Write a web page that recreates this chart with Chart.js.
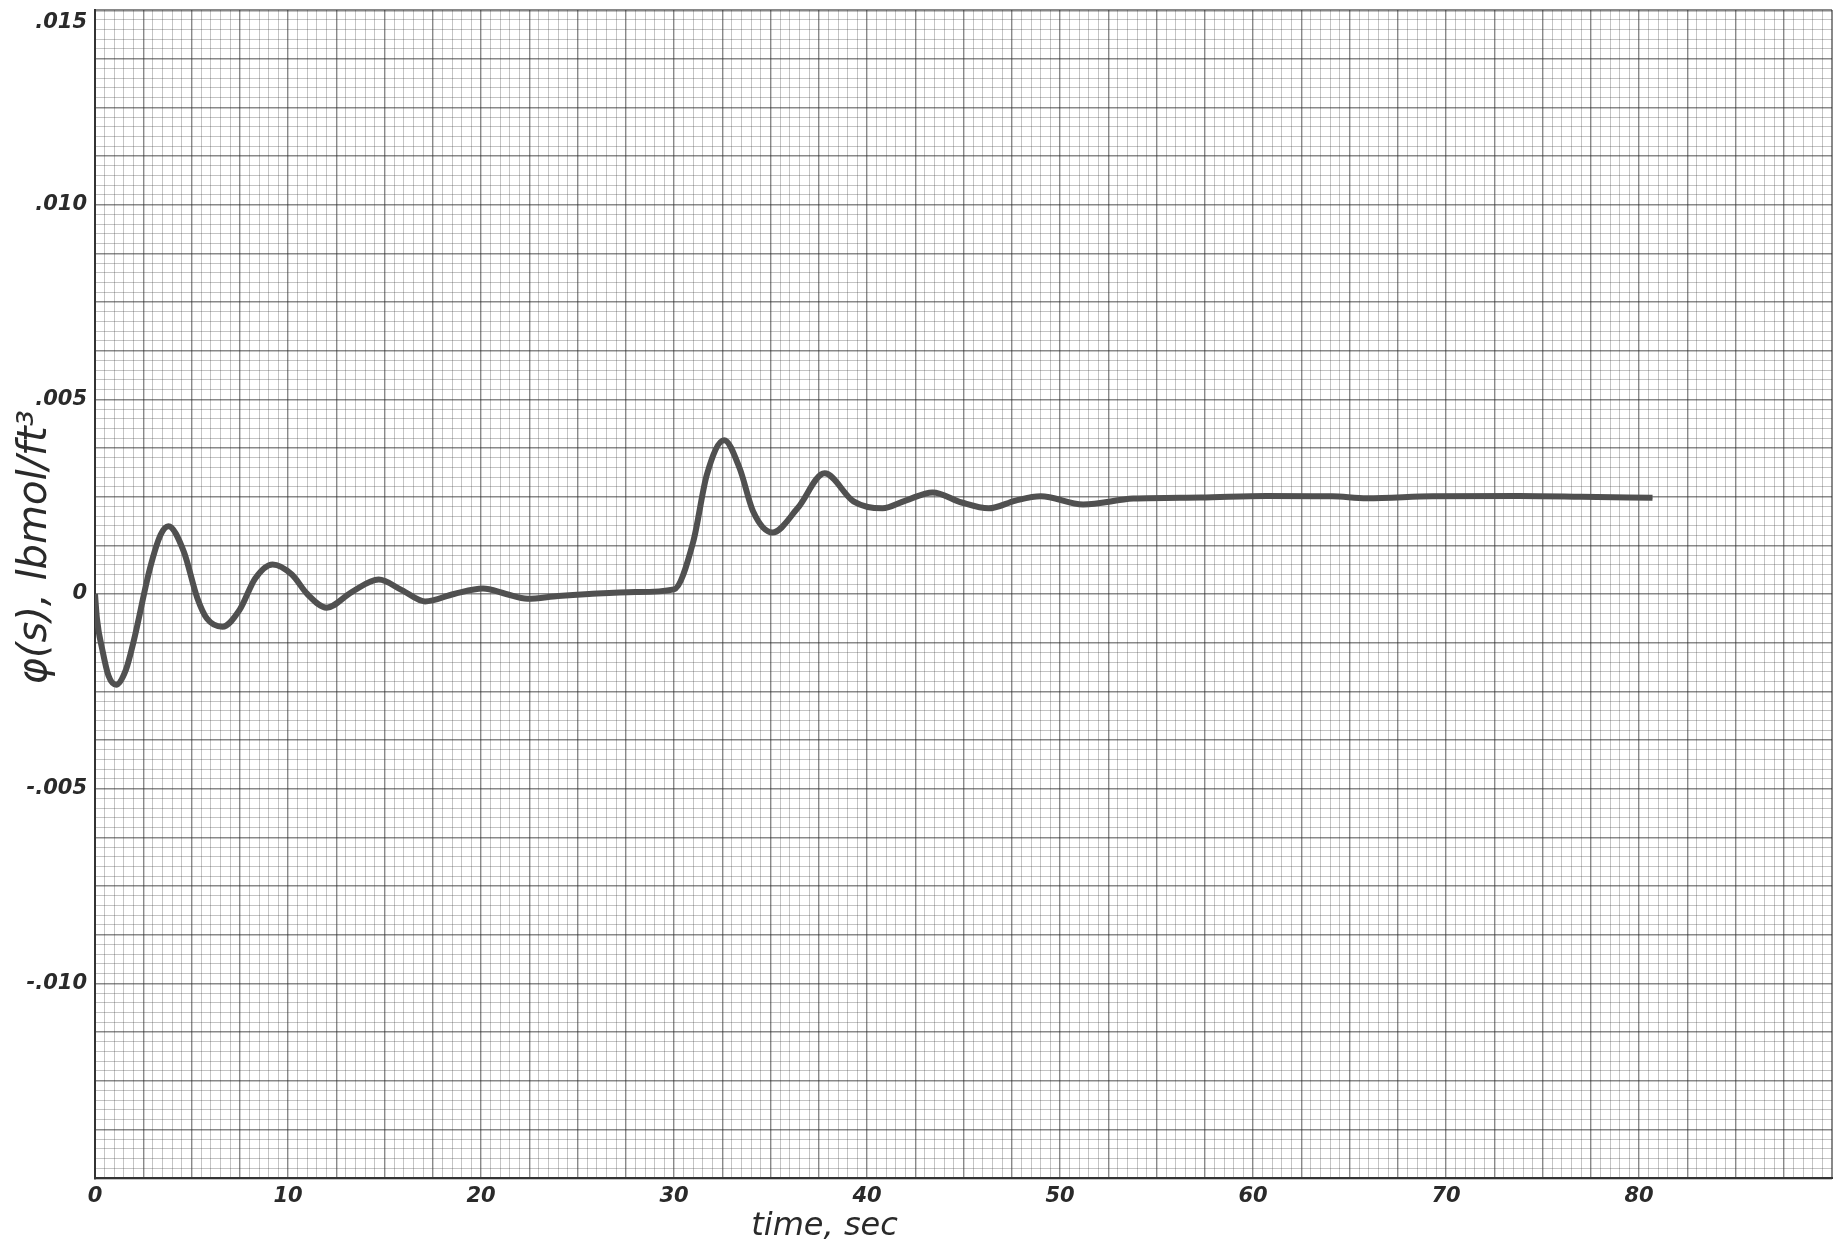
<!DOCTYPE html>
<html>
<head>
<meta charset="utf-8">
<script src="https://cdn.jsdelivr.net/npm/chart.js@4/dist/chart.umd.min.js"></script>
<style>
  html, body { margin: 0; padding: 0; background: #ffffff; }
  #wrap { width: 1841px; height: 1249px; position: relative; }
</style>
</head>
<body>
<div id="wrap"><canvas id="c" width="1841" height="1249"></canvas></div>
<script>
// time, sec
const timeSec = [
  0, 0.1, 0.4, 0.7, 1.1, 1.6, 2.0, 2.85, 3.4, 3.8, 4.6, 5.3, 5.8, 6.6,
  7.5, 8.3, 9.2, 10.2, 11.0, 12.0, 13.3, 14.7, 15.9, 17.1, 18.6, 20.1,
  21.3, 22.4, 24.0, 25.6, 28.0, 30.0, 31.0, 31.7, 32.6, 33.4, 34.1, 35.1,
  36.4, 37.8, 39.3, 40.8, 42.0, 43.4, 44.9, 46.3, 47.7, 49.0, 51.2, 53.8,
  57.3, 60.7, 64.1, 65.9, 69.3, 73.8, 77.0, 80.7
];
// response, lbmol/ft^3
const phiValues = [
  0.00000, -0.00063, -0.00148, -0.00210, -0.00233, -0.00195, -0.00122, 0.00066, 0.00152, 0.00174, 0.00109, -0.00010, -0.00063, -0.00084,
  -0.00040, 0.00040, 0.00076, 0.00050, 0.00000, -0.00035, 0.00005, 0.00037, 0.00010, -0.00019, 0.00000, 0.00014,
  0.00000, -0.00012, -0.00005, 0.00000, 0.00005, 0.00012, 0.00135, 0.00306, 0.00395, 0.00323, 0.00212, 0.00158,
  0.00220, 0.00310, 0.00238, 0.00220, 0.00240, 0.00261, 0.00235, 0.00220, 0.00240, 0.00251, 0.00230, 0.00245,
  0.00248, 0.00252, 0.00251, 0.00246, 0.00251, 0.00252, 0.00250, 0.00247
];
// labelled ticks
const xTickLabels = [0, 10, 20, 30, 40, 50, 60, 70, 80];
const yTickValues = [0.015, 0.010, 0.005, 0, -0.005, -0.010];
const yTickLabels = ['.015', '.010', '.005', '0', '-.005', '-.010'];

const xTitle = 'time, sec';
const yTitle = 'φ(s), lbmol/ft³';

const ink = '#2a2a2a';
const fineGrid = 'rgba(60,60,60,0.30)';
const heavyGrid = 'rgba(40,40,40,0.55)';
const labelFont = { family: 'DejaVu Sans', size: 21, style: 'italic', weight: 'bold' };

const points = timeSec.map((t, i) => ({ x: t, y: phiValues[i] }));

// hand-lettered axis titles, placed along the scales
const axisTitles = {
  id: 'axisTitles',
  afterDraw(chart) {
    const { ctx, scales } = chart;
    ctx.save();
    ctx.fillStyle = ink;
    ctx.font = 'italic 32px "DejaVu Sans"';
    ctx.textAlign = 'center';
    ctx.textBaseline = 'middle';
    ctx.fillText(xTitle, scales.x.getPixelForValue(37.8), chart.height - 22);
    ctx.translate(36, scales.y.getPixelForValue(0.0012));
    ctx.rotate(-Math.PI / 2);
    ctx.font = 'italic 40px "DejaVu Sans"';
    ctx.fillText(yTitle, 0, 0);
    ctx.restore();
  }
};

new Chart(document.getElementById('c'), {
  type: 'line',
  data: {
    datasets: [
      {
        data: points,
        borderColor: '#505050',
        borderWidth: 6,
        pointRadius: 0,
        cubicInterpolationMode: 'monotone',
        fill: false
      },
      {
        data: points,
        borderColor: '#a8a8a8',
        borderWidth: 2.5,
        pointRadius: 0,
        cubicInterpolationMode: 'monotone',
        fill: false
      }
    ]
  },
  options: {
    responsive: false,
    animation: false,
    devicePixelRatio: 1,
    layout: { padding: { top: 0, right: 9, left: 0, bottom: 0 } },
    plugins: { legend: { display: false }, tooltip: { enabled: false } },
    scales: {
      x: {
        type: 'linear',
        min: 0,
        max: 90,
        afterFit(scale) { scale.height = 71; scale.paddingLeft = 0; scale.paddingRight = 0; },
        ticks: {
          stepSize: 0.5,
          autoSkip: false,
          maxRotation: 0,
          minRotation: 0,
          padding: 6,
          color: ink,
          font: labelFont,
          callback(v) {
            const r = Math.round(v);
            return (Math.abs(v - r) < 1e-6 && xTickLabels.includes(r)) ? String(r) : '';
          }
        },
        grid: {
          drawTicks: false,
          color(c) {
            const k = Math.round(c.tick.value / 0.5);
            return k % 5 === 0 ? heavyGrid : fineGrid;
          },
          lineWidth(c) {
            const v = c.tick.value;
            if (v <= 0 || v >= 90) return 2;
            return Math.round(v / 0.5) % 5 === 0 ? 1.4 : 1;
          }
        },
        border: { color: '#333', width: 2 }
      },
      y: {
        type: 'linear',
        min: -0.015,
        max: 0.015,
        afterFit(scale) { scale.width = 95; scale.paddingTop = 10; scale.paddingBottom = 0; },
        ticks: {
          stepSize: 0.00025,
          autoSkip: false,
          padding: 8,
          color: ink,
          font: labelFont,
          callback(v) {
            const idx = yTickValues.findIndex(t => Math.abs(t - v) < 1e-7);
            if (idx < 0) return '';
            // the topmost label sits just under the upper edge
            return idx === 0 ? ['', yTickLabels[idx]] : yTickLabels[idx];
          }
        },
        grid: {
          drawTicks: false,
          color(c) {
            const k = Math.round(c.tick.value / 0.00025);
            return k % 5 === 0 ? heavyGrid : fineGrid;
          },
          lineWidth(c) {
            const v = c.tick.value;
            if (v <= -0.01499 || v >= 0.01499) return 2.5;
            return Math.round(v / 0.00025) % 5 === 0 ? 1.4 : 1;
          }
        },
        border: { color: '#333', width: 2 }
      }
    }
  },
  plugins: [axisTitles]
});
</script>
</body>
</html>
